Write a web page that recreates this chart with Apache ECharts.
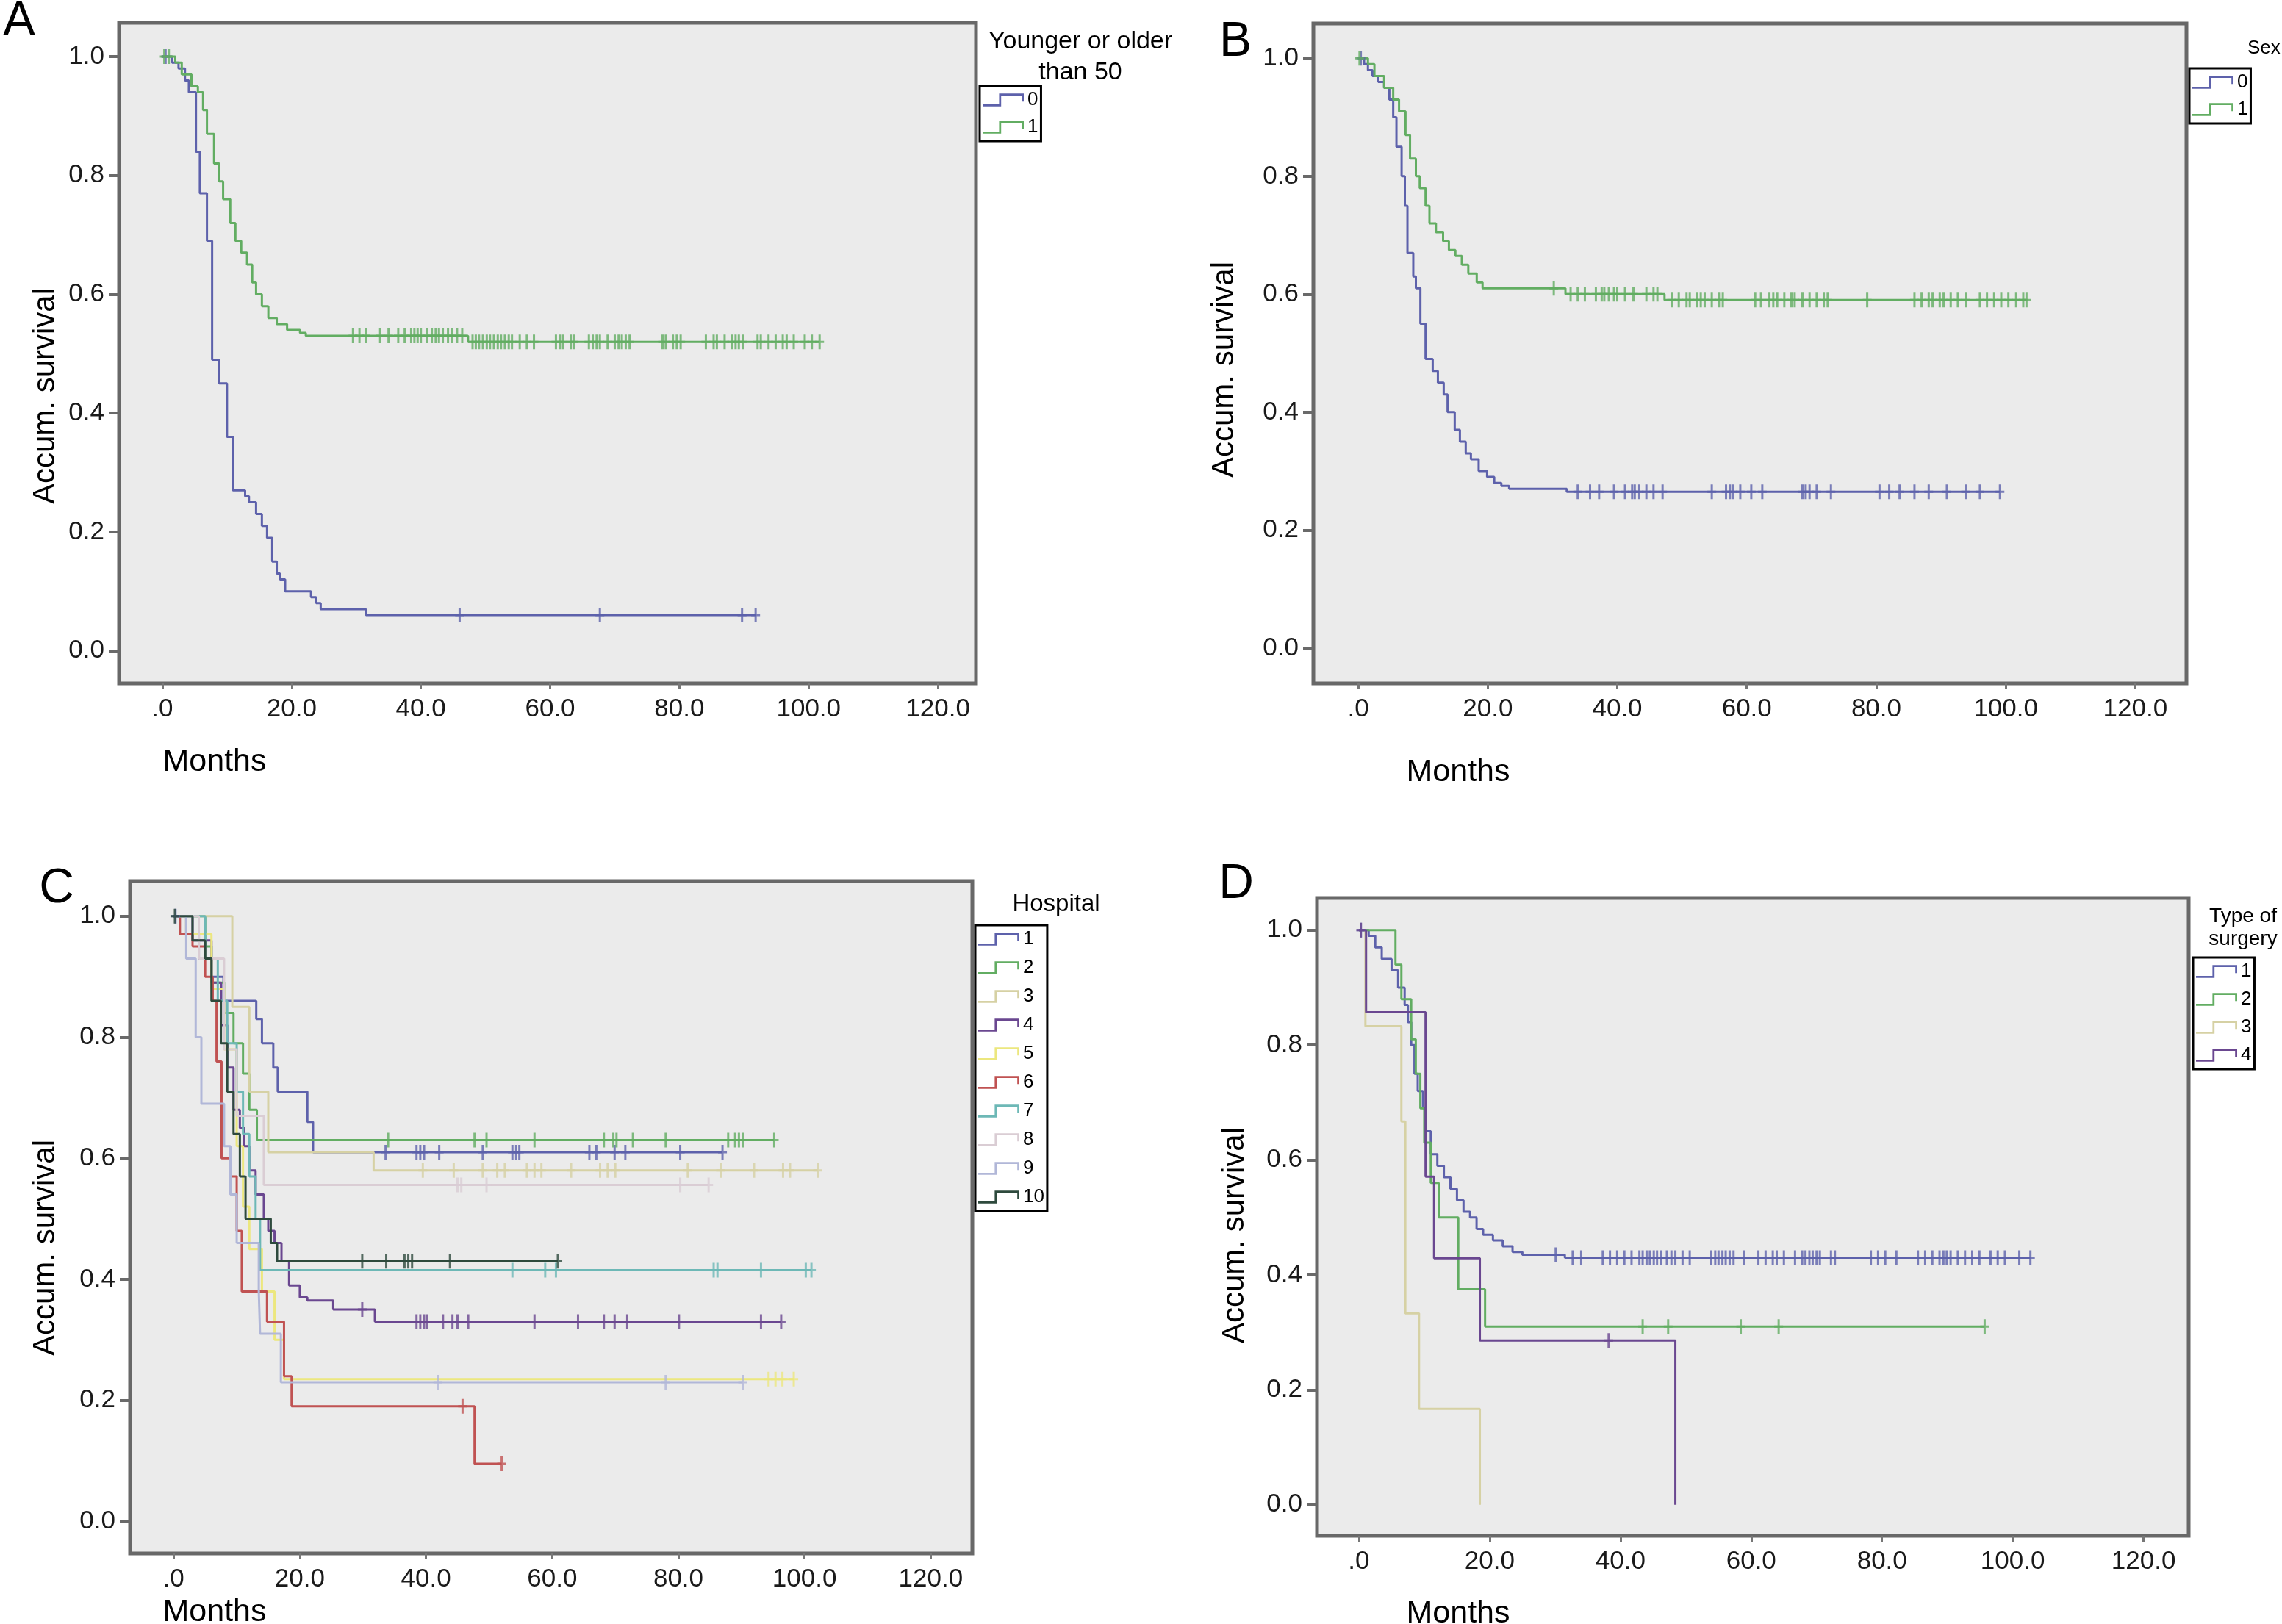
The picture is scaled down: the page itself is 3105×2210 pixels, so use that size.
<!DOCTYPE html>
<html><head><meta charset="utf-8">
<script src="https://cdn.jsdelivr.net/npm/echarts@6/dist/echarts.min.js"></script>
<style>html,body{margin:0;padding:0;background:#fff}#c{width:3105px;height:2210px}</style>
</head><body><div id="c"></div><script>
// ---------- tick labels ----------
const xTicks = [0, 20, 40, 60, 80, 100, 120];
const yTicks = [0, 0.2, 0.4, 0.6, 0.8, 1.0];

// ---------- Panel A: Younger or older than 50 ----------
const aMonths0 = [0, 1.5, 2.5, 3.5, 4.1, 5.2, 5.8, 6.9, 7.7, 8.8, 10.0, 10.9, 12.8, 13.4, 14.5, 15.4, 16.2, 17.0, 17.7, 18.2, 19.0, 23.0, 23.8, 24.5, 31.5];
const aSurv0   = [1.0, 0.99, 0.98, 0.96, 0.94, 0.84, 0.77, 0.69, 0.49, 0.45, 0.36, 0.27, 0.26, 0.25, 0.23, 0.21, 0.19, 0.15, 0.13, 0.12, 0.10, 0.09, 0.08, 0.07, 0.06];
const aCens0   = [0.5, 46.0, 67.7, 89.7, 91.8];
const aMonths1 = [0, 2.0, 3.0, 4.5, 5.5, 6.3, 6.9, 8.0, 8.8, 9.4, 10.5, 11.3, 12.2, 13.1, 13.9, 14.5, 15.4, 16.4, 17.7, 19.3, 21.3, 22.2, 47.3];
const aSurv1   = [1.0, 0.99, 0.97, 0.95, 0.94, 0.91, 0.87, 0.82, 0.79, 0.76, 0.72, 0.69, 0.67, 0.65, 0.62, 0.60, 0.58, 0.56, 0.55, 0.54, 0.535, 0.53, 0.52];
const aCens1   = [0.3, 1.0, 29.5, 30.5, 31.5, 33.7, 35.0, 36.5, 37.5, 38.5, 39.0, 39.5, 40.0, 41.0, 41.7, 42.3, 42.8, 43.4, 44.2, 44.8, 45.6, 46.4, 48.0, 48.5, 49.0, 49.6, 50.2, 50.7, 51.3, 51.9, 52.4, 53.0, 53.6, 54.1, 55.3, 56.4, 57.5, 60.9, 61.5, 62.0, 63.2, 63.7, 66.0, 66.6, 67.2, 67.7, 68.9, 70.0, 70.6, 71.1, 71.7, 72.3, 77.4, 77.9, 79.0, 79.6, 80.2, 84.1, 85.3, 85.8, 87.0, 88.1, 88.7, 89.2, 89.8, 92.1, 92.6, 93.8, 94.9, 96.0, 96.6, 97.7, 99.4, 100.5, 101.7];

// ---------- Panel B: Sex ----------
const bMonths0 = [0, 0.9, 1.5, 2.2, 3.1, 4.0, 4.8, 5.4, 5.9, 6.7, 7.2, 7.6, 8.5, 8.9, 9.6, 10.4, 11.5, 12.3, 13.2, 13.8, 14.9, 15.7, 16.6, 17.4, 18.6, 19.9, 21.0, 22.1, 23.3, 32.2];
const bSurv0   = [1.0, 0.99, 0.98, 0.97, 0.96, 0.95, 0.93, 0.90, 0.85, 0.80, 0.75, 0.67, 0.63, 0.61, 0.55, 0.49, 0.47, 0.45, 0.43, 0.40, 0.37, 0.35, 0.33, 0.32, 0.30, 0.29, 0.28, 0.275, 0.27, 0.265];
const bCens0   = [0.4, 33.9, 35.8, 37.2, 39.5, 41.2, 42.3, 42.7, 43.4, 44.5, 45.6, 47.0, 54.6, 56.8, 57.4, 57.9, 59.0, 60.7, 62.4, 68.6, 69.1, 69.7, 70.8, 73.0, 80.5, 82.0, 83.6, 85.9, 88.1, 90.9, 93.8, 96.0, 99.1];
const bMonths1 = [0, 1.5, 2.5, 4.0, 5.4, 6.3, 7.3, 8.0, 8.9, 9.5, 10.4, 11.0, 12.0, 13.1, 14.0, 15.0, 16.0, 17.0, 18.3, 19.2, 32.0, 47.3];
const bSurv1   = [1.0, 0.99, 0.97, 0.95, 0.93, 0.91, 0.87, 0.83, 0.80, 0.78, 0.75, 0.72, 0.705, 0.69, 0.675, 0.665, 0.65, 0.635, 0.62, 0.61, 0.60, 0.59];
const bCens1   = [0.2, 30.2, 32.8, 33.9, 35.0, 36.7, 37.6, 38.0, 38.7, 39.5, 40.0, 41.2, 42.5, 44.5, 45.6, 46.2, 48.4, 49.5, 50.7, 51.2, 52.3, 52.9, 53.5, 54.6, 55.7, 56.3, 61.3, 62.2, 63.5, 64.1, 64.7, 65.8, 66.9, 67.4, 68.6, 69.7, 70.8, 71.9, 72.5, 78.6, 85.9, 87.0, 88.1, 88.7, 89.8, 90.4, 91.5, 92.6, 93.8, 96.0, 97.1, 98.2, 99.3, 100.4, 101.6, 102.7, 103.2];

// ---------- Panel C: Hospital ----------
const c1Months = [0, 2, 4, 6, 7.9, 13.1, 14.0, 15.8, 16.5, 21.2, 22.1];
const c1Surv   = [1, 0.97, 0.93, 0.90, 0.86, 0.83, 0.79, 0.75, 0.71, 0.66, 0.61];
const c1Cens   = [0.3, 33.6, 38.5, 39.1, 39.7, 42.1, 49.0, 53.7, 54.3, 54.8, 65.9, 67.0, 69.9, 71.6, 80.3, 87.0];
const c2Months = [0, 5, 6, 8, 9.5, 11, 12, 13.2];
const c2Surv   = [1, 0.95, 0.89, 0.84, 0.79, 0.74, 0.68, 0.63];
const c2Cens   = [34.0, 47.7, 49.6, 57.2, 68.2, 69.7, 70.2, 72.8, 78.0, 87.9, 89.0, 89.6, 90.2, 95.2];
const c3Months = [0, 9.3, 12, 15, 31.7];
const c3Surv   = [1, 0.85, 0.71, 0.61, 0.58];
const c3Cens   = [39.5, 44.4, 49.0, 51.3, 52.5, 56.0, 57.2, 58.3, 63.0, 67.6, 68.8, 70.0, 81.5, 86.7, 92.0, 96.6, 97.7, 102.1];
const c4Months = [0, 3, 6, 7.5, 8.5, 9.5, 10.5, 11.2, 12, 13, 14.3, 15, 16, 17.1, 18.3, 20, 21.2, 25.3, 31.9];
const c4Surv   = [1, 0.96, 0.89, 0.82, 0.75, 0.68, 0.65, 0.62, 0.58, 0.54, 0.50, 0.48, 0.46, 0.43, 0.39, 0.37, 0.365, 0.35, 0.33];
const c4Cens   = [29.9, 38.5, 39.1, 39.7, 40.2, 42.7, 44.2, 45.0, 46.7, 57.2, 64.1, 68.2, 69.9, 71.9, 80.1, 93.1, 96.3];
const c5Months = [0, 2, 6, 8, 10, 11, 12, 14, 16, 17.5];
const c5Surv   = [1, 0.97, 0.88, 0.78, 0.62, 0.52, 0.45, 0.38, 0.30, 0.235];
const c5Cens   = [94.3, 95.4, 96.5, 98.3];
const c6Months = [0, 1, 3, 5, 6.2, 6.8, 7.6, 9.0, 10.0, 10.8, 14.8, 17.5, 18.7, 47.7];
const c6Surv   = [1, 0.97, 0.95, 0.90, 0.86, 0.76, 0.60, 0.57, 0.48, 0.38, 0.33, 0.24, 0.19, 0.095];
const c6Cens   = [45.8, 52.0];
const c7Months = [0, 5, 7, 8.5, 10, 11, 12, 13, 13.7];
const c7Surv   = [1, 0.93, 0.86, 0.79, 0.71, 0.64, 0.57, 0.50, 0.415];
const c7Cens   = [53.7, 58.9, 60.6, 85.6, 86.2, 93.1, 100.2, 101.1];
const c8Months = [0, 4, 8, 10, 14.3];
const c8Surv   = [1, 0.93, 0.78, 0.67, 0.556];
const c8Cens   = [45.0, 45.6, 49.6, 80.3, 84.8];
const c9Months = [0, 2, 3.5, 4.4, 8, 9, 10, 13.5, 13.7, 17];
const c9Surv   = [1, 0.93, 0.80, 0.69, 0.62, 0.54, 0.46, 0.38, 0.31, 0.23];
const c9Cens   = [41.9, 78.0, 90.2];
const c10Months = [0, 3, 5, 6, 7.5, 8.5, 9.5, 10.5, 11.4, 15.4, 16.4];
const c10Surv   = [1, 0.96, 0.93, 0.86, 0.79, 0.71, 0.64, 0.57, 0.50, 0.46, 0.43];
const c10Cens   = [0.2, 29.9, 33.7, 36.6, 37.2, 37.8, 43.8, 60.9];

// ---------- Panel D: Type of surgery ----------
const d1Months = [0, 1.5, 2.5, 3.5, 5.0, 6.0, 7.0, 7.5, 8.0, 8.5, 9.0, 9.8, 10.2, 11.0, 12.0, 13.0, 14.0, 15.0, 16.0, 17.0, 18.0, 19.0, 20.5, 22.0, 23.5, 25.0, 31.5];
const d1Surv   = [1, 0.99, 0.97, 0.95, 0.93, 0.90, 0.87, 0.84, 0.80, 0.75, 0.72, 0.69, 0.65, 0.61, 0.59, 0.57, 0.55, 0.53, 0.51, 0.50, 0.48, 0.47, 0.46, 0.45, 0.44, 0.435, 0.43];
const d1Cens   = [0.3, 30.1, 32.7, 34.0, 37.3, 38.4, 39.5, 40.6, 41.7, 42.9, 43.4, 44.0, 44.5, 45.1, 45.6, 46.2, 47.1, 47.8, 48.4, 49.5, 50.6, 53.9, 54.5, 55.0, 55.6, 56.1, 56.7, 57.3, 58.9, 61.1, 62.2, 63.3, 63.9, 65.0, 66.7, 67.8, 68.3, 68.9, 69.4, 70.0, 70.5, 72.2, 72.8, 78.3, 79.4, 80.5, 82.2, 85.5, 86.6, 87.7, 88.8, 89.4, 89.9, 90.5, 91.6, 92.7, 93.8, 94.9, 96.6, 97.7, 98.8, 101.0, 102.7];
const d2Months = [0, 5.6, 6.5, 8.0, 8.7, 9.4, 10.0, 11.0, 12.2, 15.2, 19.3];
const d2Surv   = [1, 0.94, 0.88, 0.81, 0.75, 0.69, 0.63, 0.56, 0.50, 0.375, 0.31];
const d2Cens   = [43.4, 47.3, 58.4, 64.2, 95.7];
const d3Months = [0, 1.0, 6.5, 7.1, 9.2, 18.5];
const d3Surv   = [1, 0.833, 0.667, 0.333, 0.167, 0];
const d3Cens   = [];
const d4Months = [0, 1.1, 10.2, 11.5, 18.5, 48.4];
const d4Surv   = [1, 0.857, 0.571, 0.429, 0.286, 0];
const d4Cens   = [0.3, 38.2];

// ---------- styles / layout (not data) ----------
const FONT = "'Liberation Sans', Arial, Helvetica, sans-serif";
const COL = {
  blue: '#5d61ab', green: '#62ad62', beige: '#d6d1a4', purple: '#6a4790', yellow: '#ece77e',
  red: '#c05252', teal: '#6db8b6', pink: '#dacdd4', lavender: '#b1b7d8', dark: '#2e4a3d'
};
const panels = [
  { left: 162, top: 31, width: 1166, height: 899, xMin: -6.7, xMax: 125.9, yMin: -0.055, yMax: 1.057 },
  { left: 1787, top: 32, width: 1188, height: 898, xMin: -6.93, xMax: 127.9, yMin: -0.06, yMax: 1.059 },
  { left: 177, top: 1199, width: 1146, height: 915, xMin: -6.9, xMax: 126.6, yMin: -0.053, yMax: 1.058 },
  { left: 1792, top: 1222, width: 1186, height: 868, xMin: -6.4, xMax: 126.9, yMin: -0.054, yMax: 1.056 }
];

const groups = [
  { p: 0, name: 'A:0', m: aMonths0, s: aSurv0, c: aCens0, col: COL.blue },
  { p: 0, name: 'A:1', m: aMonths1, s: aSurv1, c: aCens1, col: COL.green },
  { p: 1, name: 'B:0', m: bMonths0, s: bSurv0, c: bCens0, col: COL.blue },
  { p: 1, name: 'B:1', m: bMonths1, s: bSurv1, c: bCens1, col: COL.green },
  { p: 2, name: 'C:1', m: c1Months, s: c1Surv, c: c1Cens, col: COL.blue },
  { p: 2, name: 'C:2', m: c2Months, s: c2Surv, c: c2Cens, col: COL.green },
  { p: 2, name: 'C:3', m: c3Months, s: c3Surv, c: c3Cens, col: COL.beige },
  { p: 2, name: 'C:4', m: c4Months, s: c4Surv, c: c4Cens, col: COL.purple },
  { p: 2, name: 'C:5', m: c5Months, s: c5Surv, c: c5Cens, col: COL.yellow },
  { p: 2, name: 'C:6', m: c6Months, s: c6Surv, c: c6Cens, col: COL.red },
  { p: 2, name: 'C:7', m: c7Months, s: c7Surv, c: c7Cens, col: COL.teal },
  { p: 2, name: 'C:8', m: c8Months, s: c8Surv, c: c8Cens, col: COL.pink },
  { p: 2, name: 'C:9', m: c9Months, s: c9Surv, c: c9Cens, col: COL.lavender },
  { p: 2, name: 'C:10', m: c10Months, s: c10Surv, c: c10Cens, col: COL.dark },
  { p: 3, name: 'D:1', m: d1Months, s: d1Surv, c: d1Cens, col: COL.blue },
  { p: 3, name: 'D:2', m: d2Months, s: d2Surv, c: d2Cens, col: COL.green },
  { p: 3, name: 'D:3', m: d3Months, s: d3Surv, c: d3Cens, col: COL.beige },
  { p: 3, name: 'D:4', m: d4Months, s: d4Surv, c: d4Cens, col: COL.purple }
];

function stepData(m, s, c) {
  const d = m.map((t, i) => [t, s[i]]);
  const last = m[m.length - 1];
  const end = c.length ? Math.max.apply(null, c) : last;
  if (end > last) d.push([end, s[s.length - 1]]);
  return d;
}
function survAt(m, s, t) {
  let v = s[0];
  for (let i = 0; i < m.length; i++) if (m[i] <= t) v = s[i];
  return v;
}

const PLUS = 'path://M4.5,0H7.5V8.5H12V11.5H7.5V20H4.5V11.5H0V8.5H4.5Z';
const STEP_ICON = 'path://M0,16H24V0H60V12H57V3H27V19H0Z';

const grids = [], xAxes = [], yAxes = [];
panels.forEach((P, i) => {
  grids.push({ left: P.left, top: P.top, width: P.width, height: P.height, show: true,
    backgroundColor: '#ebebeb', borderColor: '#686868', borderWidth: 5 });
  xAxes.push({ type: 'value', gridIndex: i, min: P.xMin, max: P.xMax,
    axisLine: { show: false, onZero: false }, splitLine: { show: false },
    axisTick: { show: true, customValues: xTicks, length: 8, lineStyle: { color: '#777', width: 3 } },
    axisLabel: { customValues: xTicks, margin: 18, fontSize: 35, fontFamily: FONT, color: '#1a1a1a',
      formatter: v => v === 0 ? '.0' : v.toFixed(1) } });
  yAxes.push({ type: 'value', gridIndex: i, min: P.yMin, max: P.yMax,
    axisLine: { show: false, onZero: false }, splitLine: { show: false },
    axisTick: { show: true, customValues: yTicks, length: 14, lineStyle: { color: '#6a6a6a', width: 4 } },
    axisLabel: { customValues: yTicks, margin: 20, fontSize: 35, fontFamily: FONT, color: '#1a1a1a',
      formatter: v => v.toFixed(1) } });
});

const series = [];
groups.forEach(g => {
  series.push({ type: 'line', name: g.name, xAxisIndex: g.p, yAxisIndex: g.p, step: 'end',
    data: stepData(g.m, g.s, g.c), symbol: 'none', silent: true, z: 2,
    lineStyle: { color: g.col, width: 3 }, itemStyle: { color: g.col } });
});
groups.forEach(g => {
  if (!g.c.length) return;
  series.push({ type: 'scatter', name: g.name, xAxisIndex: g.p, yAxisIndex: g.p,
    data: g.c.map(t => [t, survAt(g.m, g.s, t)]), symbol: PLUS, symbolSize: [12, 20],
    silent: true, z: 3, itemStyle: { color: g.col } });
});

function legendAt(names, left, top, gap) {
  return { data: names, left: left, top: top, orient: 'vertical', icon: STEP_ICON,
    itemWidth: 56, itemHeight: 18, itemGap: gap, padding: [6, 4, 6, 4],
    borderColor: '#000', borderWidth: 3, selectedMode: false,
    itemStyle: { borderWidth: 0 },
    formatter: n => n.split(':')[1],
    textStyle: { fontSize: 26, color: '#000', fontFamily: FONT } };
}
const legends = [
  legendAt(['A:0', 'A:1'], 1333, 117, 11),
  legendAt(['B:0', 'B:1'], 2979, 93, 11),
  legendAt(['C:1', 'C:2', 'C:3', 'C:4', 'C:5', 'C:6', 'C:7', 'C:8', 'C:9', 'C:10'], 1327, 1259, 13),
  legendAt(['D:1', 'D:2', 'D:3', 'D:4'], 2984, 1303, 12)
];

function txt(text, x, y, size, align, rot, lh) {
  return { type: 'text', x: x, y: y, rotation: rot || 0, silent: true,
    style: { text: text, fontSize: size, fontFamily: FONT, fill: '#000',
      align: align || 'center', verticalAlign: 'middle', lineHeight: lh || Math.round(size * 1.15) } };
}
const graphics = [
  txt('A', 26, 30, 66), txt('B', 1681, 58, 66), txt('C', 77, 1210, 66), txt('D', 1682, 1204, 66),
  txt('Months', 292, 1037, 43), txt('Months', 1984, 1051, 43),
  txt('Months', 292, 2194, 43), txt('Months', 1984, 2196, 43),
  txt('Accum. survival', 62, 539, 42, 'center', Math.PI / 2),
  txt('Accum. survival', 1666, 503, 42, 'center', Math.PI / 2),
  txt('Accum. survival', 62, 1698, 42, 'center', Math.PI / 2),
  txt('Accum. survival', 1680, 1681, 42, 'center', Math.PI / 2),
  txt('Younger or older\nthan 50', 1470, 78, 34, 'center', 0, 42),
  txt('Sex', 3058, 66, 26, 'left'),
  txt('Hospital', 1437, 1231, 33),
  txt('Type of\nsurgery', 3052, 1263, 28, 'center', 0, 31)
];

const chart = echarts.init(document.getElementById('c'), null, { renderer: 'canvas' });
chart.setOption({
  animation: false,
  backgroundColor: '#ffffff',
  grid: grids, xAxis: xAxes, yAxis: yAxes,
  legend: legends,
  graphic: graphics,
  series: series
});
</script></body></html>
